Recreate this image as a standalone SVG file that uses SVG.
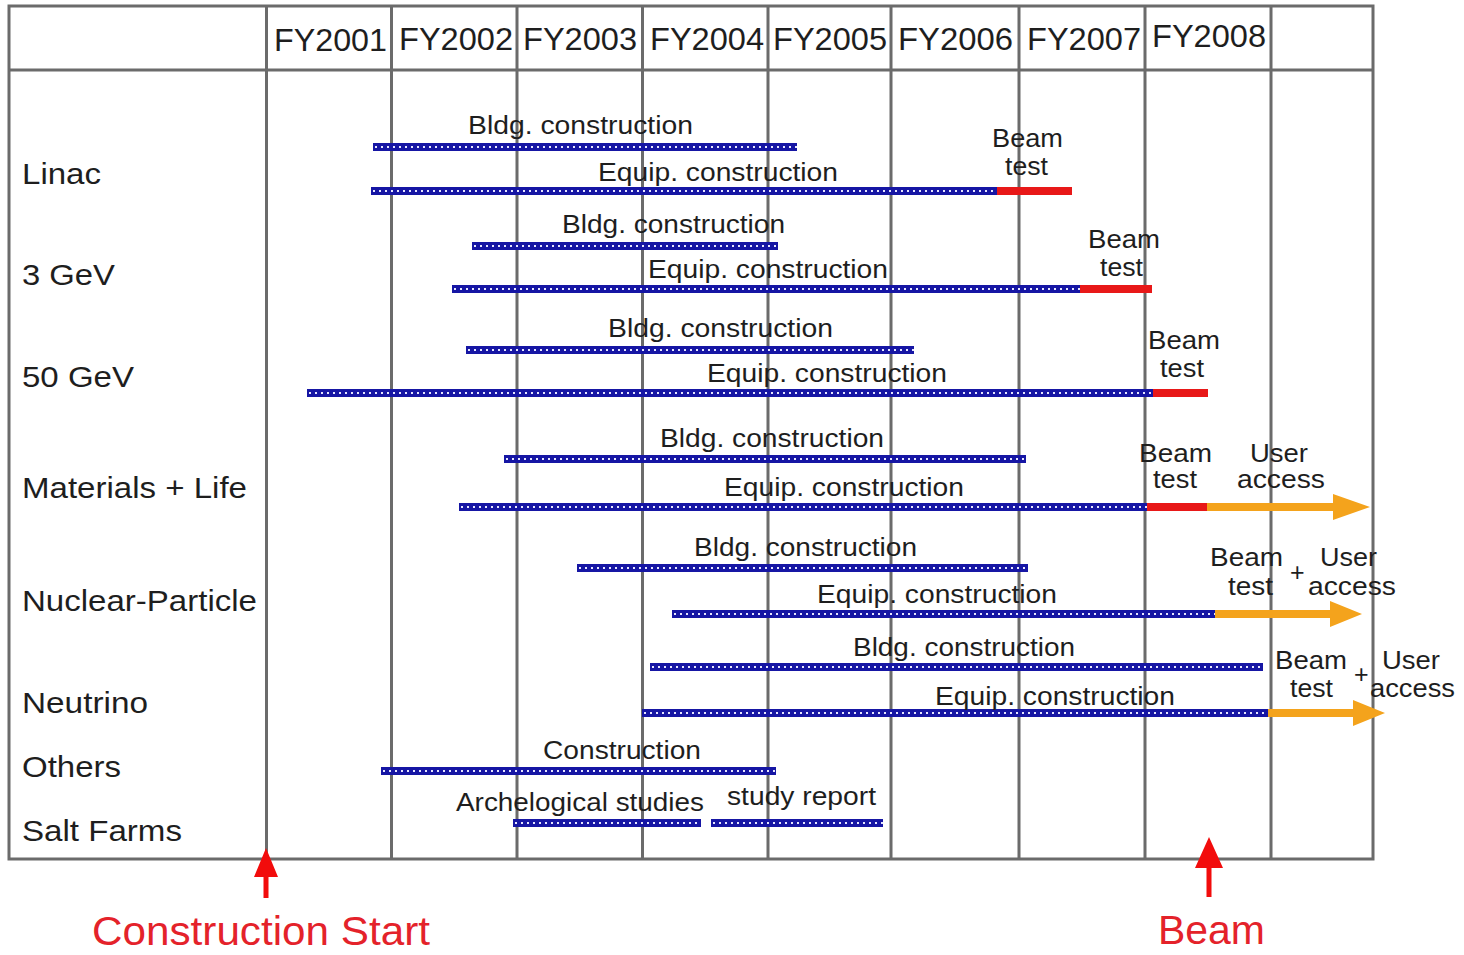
<svg xmlns="http://www.w3.org/2000/svg" width="1464" height="955" viewBox="0 0 1464 955">
<style>
text{font-family:"Liberation Sans",Arial,sans-serif;fill:#1e1e1e}
.hd{font-size:32px}
.row{font-size:30px}
.lb{font-size:26px}
.bt{font-size:25px}
.red{fill:#e4222a;font-size:40px}
.grid{stroke:#6b6b6b;stroke-width:3;fill:none}
.b{stroke:#1616a4;stroke-width:8}
.d{stroke:#e6e6ff;stroke-width:2.2;stroke-dasharray:2 4}
.r{stroke:#e81818;stroke-width:8}
.o{fill:#f4a31c}
.ra{fill:#f20c0c}
</style>
<rect width="1464" height="955" fill="#ffffff"/>
<g id="grid">
<rect class="grid" x="9" y="6" width="1364" height="853"/>
<line class="grid" x1="9" y1="70" x2="1373" y2="70"/>
<line class="grid" x1="266.5" y1="6" x2="266.5" y2="859"/>
<line class="grid" x1="391.5" y1="6" x2="391.5" y2="859"/>
<line class="grid" x1="517" y1="6" x2="517" y2="859"/>
<line class="grid" x1="642.5" y1="6" x2="642.5" y2="859"/>
<line class="grid" x1="768" y1="6" x2="768" y2="859"/>
<line class="grid" x1="891" y1="6" x2="891" y2="859"/>
<line class="grid" x1="1019" y1="6" x2="1019" y2="859"/>
<line class="grid" x1="1145" y1="6" x2="1145" y2="859"/>
<line class="grid" x1="1271" y1="6" x2="1271" y2="859"/>
</g>
<g id="header">
<text class="hd" x="274" y="51" textLength="113" lengthAdjust="spacingAndGlyphs">FY2001</text>
<text class="hd" x="399" y="50" textLength="114" lengthAdjust="spacingAndGlyphs">FY2002</text>
<text class="hd" x="523" y="50" textLength="114" lengthAdjust="spacingAndGlyphs">FY2003</text>
<text class="hd" x="650" y="50" textLength="114" lengthAdjust="spacingAndGlyphs">FY2004</text>
<text class="hd" x="773" y="50" textLength="114" lengthAdjust="spacingAndGlyphs">FY2005</text>
<text class="hd" x="898" y="50" textLength="115" lengthAdjust="spacingAndGlyphs">FY2006</text>
<text class="hd" x="1027" y="50" textLength="114" lengthAdjust="spacingAndGlyphs">FY2007</text>
<text class="hd" x="1152" y="47" textLength="114" lengthAdjust="spacingAndGlyphs">FY2008</text>
</g>
<g id="row-labels">
<text class="row" x="22" y="184" textLength="79" lengthAdjust="spacingAndGlyphs">Linac</text>
<text class="row" x="22" y="285" textLength="93" lengthAdjust="spacingAndGlyphs">3 GeV</text>
<text class="row" x="22" y="387" textLength="112" lengthAdjust="spacingAndGlyphs">50 GeV</text>
<text class="row" x="22" y="498" textLength="225" lengthAdjust="spacingAndGlyphs">Materials + Life</text>
<text class="row" x="22" y="611" textLength="235" lengthAdjust="spacingAndGlyphs">Nuclear-Particle</text>
<text class="row" x="22" y="713" textLength="126" lengthAdjust="spacingAndGlyphs">Neutrino</text>
<text class="row" x="22" y="777" textLength="99" lengthAdjust="spacingAndGlyphs">Others</text>
<text class="row" x="22" y="841" textLength="160" lengthAdjust="spacingAndGlyphs">Salt Farms</text>
</g>
<g id="connectors">
<!-- Linac -->
<line class="b" x1="373" y1="147" x2="797" y2="147"/><line class="d" x1="375" y1="147" x2="797" y2="147"/>
<line class="b" x1="371" y1="191" x2="997" y2="191"/><line class="d" x1="373" y1="191" x2="997" y2="191"/>
<line class="r" x1="997" y1="191" x2="1072" y2="191"/>
<!-- 3 GeV -->
<line class="b" x1="472" y1="246" x2="778" y2="246"/><line class="d" x1="474" y1="246" x2="778" y2="246"/>
<line class="b" x1="452" y1="289" x2="1080" y2="289"/><line class="d" x1="454" y1="289" x2="1080" y2="289"/>
<line class="r" x1="1080" y1="289" x2="1152" y2="289"/>
<!-- 50 GeV -->
<line class="b" x1="466" y1="350" x2="914" y2="350"/><line class="d" x1="468" y1="350" x2="914" y2="350"/>
<line class="b" x1="307" y1="393" x2="1153" y2="393"/><line class="d" x1="309" y1="393" x2="1153" y2="393"/>
<line class="r" x1="1153" y1="393" x2="1208" y2="393"/>
<!-- Materials + Life -->
<line class="b" x1="504" y1="459" x2="1026" y2="459"/><line class="d" x1="506" y1="459" x2="1026" y2="459"/>
<line class="b" x1="459" y1="507" x2="1147" y2="507"/><line class="d" x1="461" y1="507" x2="1147" y2="507"/>
<line class="r" x1="1147" y1="507" x2="1207" y2="507"/>
<polygon class="o" points="1207,503 1333,503 1333,494 1370,507 1333,520 1333,511 1207,511"/>
<!-- Nuclear-Particle -->
<line class="b" x1="577" y1="568" x2="1028" y2="568"/><line class="d" x1="579" y1="568" x2="1028" y2="568"/>
<line class="b" x1="672" y1="614" x2="1215" y2="614"/><line class="d" x1="674" y1="614" x2="1215" y2="614"/>
<polygon class="o" points="1215,610 1330,610 1330,601 1362,614 1330,627 1330,618 1215,618"/>
<!-- Neutrino -->
<line class="b" x1="650" y1="667" x2="1263" y2="667"/><line class="d" x1="652" y1="667" x2="1263" y2="667"/>
<line class="b" x1="642" y1="713" x2="1268" y2="713"/><line class="d" x1="644" y1="713" x2="1268" y2="713"/>
<polygon class="o" points="1268,709 1353,709 1353,700 1385,713 1353,726 1353,717 1268,717"/>
<!-- Others -->
<line class="b" x1="381" y1="771" x2="776" y2="771"/><line class="d" x1="383" y1="771" x2="776" y2="771"/>
<!-- Salt Farms -->
<line class="b" x1="513" y1="823" x2="701" y2="823"/><line class="d" x1="515" y1="823" x2="701" y2="823"/>
<line class="b" x1="711" y1="823" x2="883" y2="823"/><line class="d" x1="713" y1="823" x2="883" y2="823"/>
<!-- milestone arrows -->
<polygon class="ra" points="266,848 278,877 268.5,877 268.5,898 263.5,898 263.5,877 254,877"/>
<polygon class="ra" points="1209,837 1223,868 1211.5,868 1211.5,897 1206.5,897 1206.5,868 1195,868"/>
</g>
<g id="linac">
<text class="lb" x="468" y="134" textLength="225" lengthAdjust="spacingAndGlyphs">Bldg. construction</text>
<text class="lb" x="598" y="181" textLength="240" lengthAdjust="spacingAndGlyphs">Equip. construction</text>
<text class="bt" x="992" y="147" textLength="71" lengthAdjust="spacingAndGlyphs">Beam</text>
<text class="bt" x="1005" y="175" textLength="43" lengthAdjust="spacingAndGlyphs">test</text>
</g>
<g id="gev3">
<text class="lb" x="562" y="233" textLength="223" lengthAdjust="spacingAndGlyphs">Bldg. construction</text>
<text class="lb" x="648" y="278" textLength="240" lengthAdjust="spacingAndGlyphs">Equip. construction</text>
<text class="bt" x="1088" y="248" textLength="72" lengthAdjust="spacingAndGlyphs">Beam</text>
<text class="bt" x="1100" y="276" textLength="43" lengthAdjust="spacingAndGlyphs">test</text>
</g>
<g id="gev50">
<text class="lb" x="608" y="337" textLength="225" lengthAdjust="spacingAndGlyphs">Bldg. construction</text>
<text class="lb" x="707" y="382" textLength="240" lengthAdjust="spacingAndGlyphs">Equip. construction</text>
<text class="bt" x="1148" y="349" textLength="72" lengthAdjust="spacingAndGlyphs">Beam</text>
<text class="bt" x="1160" y="377" textLength="44" lengthAdjust="spacingAndGlyphs">test</text>
</g>
<g id="materials-life">
<text class="lb" x="660" y="447" textLength="224" lengthAdjust="spacingAndGlyphs">Bldg. construction</text>
<text class="lb" x="724" y="496" textLength="240" lengthAdjust="spacingAndGlyphs">Equip. construction</text>
<text class="bt" x="1139" y="462" textLength="73" lengthAdjust="spacingAndGlyphs">Beam</text>
<text class="bt" x="1153" y="488" textLength="44" lengthAdjust="spacingAndGlyphs">test</text>
<text class="bt" x="1250" y="462" textLength="58" lengthAdjust="spacingAndGlyphs">User</text>
<text class="bt" x="1237" y="488" textLength="88" lengthAdjust="spacingAndGlyphs">access</text>
</g>
<g id="nuclear-particle">
<text class="lb" x="694" y="556" textLength="223" lengthAdjust="spacingAndGlyphs">Bldg. construction</text>
<text class="lb" x="817" y="603" textLength="240" lengthAdjust="spacingAndGlyphs">Equip. construction</text>
<text class="bt" x="1210" y="566" textLength="73" lengthAdjust="spacingAndGlyphs">Beam</text>
<text class="bt" x="1228" y="595" textLength="45" lengthAdjust="spacingAndGlyphs">test</text>
<text class="bt" x="1290" y="581" font-size="22">+</text>
<text class="bt" x="1320" y="566" textLength="57" lengthAdjust="spacingAndGlyphs">User</text>
<text class="bt" x="1308" y="595" textLength="88" lengthAdjust="spacingAndGlyphs">access</text>
</g>
<g id="neutrino">
<text class="lb" x="853" y="656" textLength="222" lengthAdjust="spacingAndGlyphs">Bldg. construction</text>
<text class="lb" x="935" y="705" textLength="240" lengthAdjust="spacingAndGlyphs">Equip. construction</text>
<text class="bt" x="1275" y="669" textLength="72" lengthAdjust="spacingAndGlyphs">Beam</text>
<text class="bt" x="1290" y="697" textLength="43" lengthAdjust="spacingAndGlyphs">test</text>
<text class="bt" x="1354" y="683" font-size="22">+</text>
<text class="bt" x="1382" y="669" textLength="58" lengthAdjust="spacingAndGlyphs">User</text>
<text class="bt" x="1370" y="697" textLength="85" lengthAdjust="spacingAndGlyphs">access</text>
</g>
<g id="others">
<text class="lb" x="543" y="759" textLength="158" lengthAdjust="spacingAndGlyphs">Construction</text>
</g>
<g id="salt-farms">
<text class="lb" x="456" y="811" textLength="248" lengthAdjust="spacingAndGlyphs">Archelogical studies</text>
<text class="lb" x="727" y="805" textLength="149" lengthAdjust="spacingAndGlyphs">study report</text>
</g>
<g id="milestones">
<text class="red" x="92" y="945" textLength="338" lengthAdjust="spacingAndGlyphs">Construction Start</text>
<text class="red" x="1158" y="944" textLength="107" lengthAdjust="spacingAndGlyphs">Beam</text>
</g>
</svg>
